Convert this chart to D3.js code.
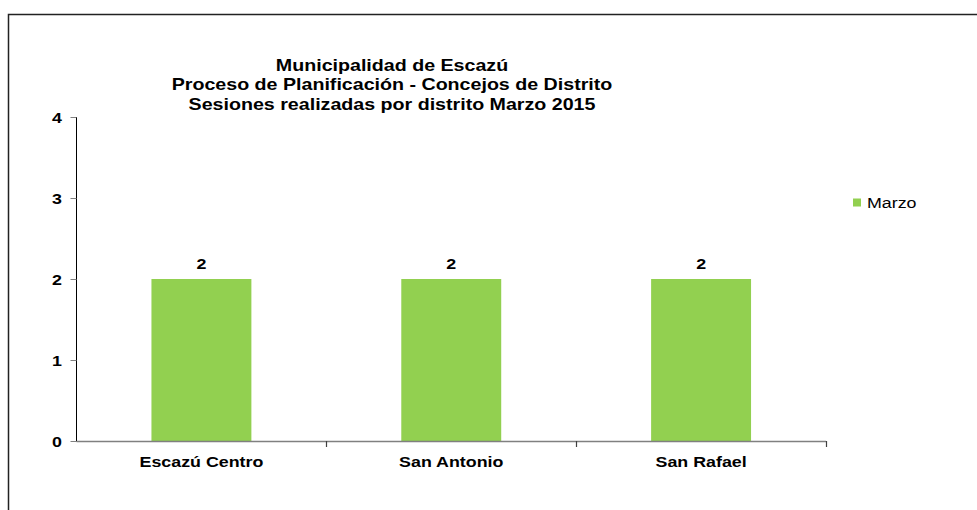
<!DOCTYPE html>
<html><head><meta charset="utf-8">
<script src="https://cdn.jsdelivr.net/npm/d3@7"></script>
<style>body{margin:0;background:#fff;}svg{display:block;font-family:"Liberation Sans",Arial,sans-serif;}</style>
</head><body><svg id="c" width="977" height="510"></svg>
<script>
const titleLines = ["Municipalidad de Escazú", "Proceso de Planificación - Concejos de Distrito", "Sesiones realizadas por distrito Marzo 2015"];
const categories = ["Escazú Centro", "San Antonio", "San Rafael"];
const seriesName = "Marzo";
const values = [2, 2, 2];
const yTicks = [0, 1, 2, 3, 4];

(function () {
const SX = 1.19;
const place = (fx, fy) => (d, i) => `translate(${fx(d, i)},${fy(d, i)}) scale(${SX},1)`;
const svg = d3.select("#c");
// outer border (left and top)
svg.append("path").attr("d", "M8.5,510 L8.5,14.5 L977,14.5").attr("fill", "none").attr("stroke", "#222").attr("stroke-width", 1.5);

const pLeft = 76.5, pRight = 826, pTop = 117, pBottom = 441;
const x = d3.scaleBand().domain(categories).range([pLeft, pRight]).paddingInner(0.6).paddingOuter(0.3);
const xb = d3.scaleBand().domain(categories).range([pLeft, pRight]);
const y = d3.scaleLinear().domain([0, 4]).range([pBottom, pTop]);

// title
svg.append("g").selectAll("text").data(titleLines).join("text")
  .attr("transform", place(() => 392, (d, i) => 71 + i * 19.3))
  .attr("text-anchor", "middle").attr("font-weight", "bold").attr("font-size", 16.5).attr("fill", "#000")
  .text(d => d);

// bars
svg.append("g").selectAll("rect").data(values).join("rect")
  .attr("x", (d, i) => x(categories[i])).attr("width", x.bandwidth())
  .attr("y", d => y(d)).attr("height", d => pBottom - y(d)).attr("fill", "#92d050");

// value labels
svg.append("g").selectAll("text").data(values).join("text")
  .attr("transform", place((d, i) => x(categories[i]) + x.bandwidth() / 2, d => y(d) - 10))
  .attr("text-anchor", "middle").attr("font-weight", "bold").attr("font-size", 15).text(d => d);

// y axis
const gy = svg.append("g");
gy.append("line").attr("x1", pLeft).attr("x2", pLeft).attr("y1", pTop).attr("y2", pBottom + 0.5).attr("stroke", "#000").attr("stroke-width", 1);
gy.selectAll("line.t").data(yTicks).join("line").attr("class", "t")
  .attr("x1", pLeft - 6).attr("x2", pLeft).attr("y1", d => Math.round(y(d)) + 0.5).attr("y2", d => Math.round(y(d)) + 0.5)
  .attr("stroke", "#808080");
gy.selectAll("text").data(yTicks).join("text")
  .attr("transform", place(() => 62, d => y(d) + 5.5)).attr("text-anchor", "end")
  .attr("font-weight", "bold").attr("font-size", 15).text(d => d);

// x axis
const gx = svg.append("g");
gx.append("line").attr("x1", pLeft).attr("x2", pRight).attr("y1", pBottom + 0.5).attr("y2", pBottom + 0.5).attr("stroke", "#808080").attr("stroke-width", 1.5);
const bounds = categories.map(c => xb(c) + xb.bandwidth());
gx.selectAll("line.t").data(bounds).join("line").attr("class", "t")
  .attr("x1", d => Math.round(d) + 0.5).attr("x2", d => Math.round(d) + 0.5).attr("y1", pBottom).attr("y2", pBottom + 6)
  .attr("stroke", "#404040").attr("stroke-width", 1.2);
gx.selectAll("text").data(categories).join("text")
  .attr("transform", place(d => xb(d) + xb.bandwidth() / 2, () => 467))
  .attr("text-anchor", "middle").attr("font-weight", "bold").attr("font-size", 15).text(d => d);

// legend
const lg = svg.append("g");
lg.append("rect").attr("x", 853).attr("y", 198.5).attr("width", 8).attr("height", 8).attr("fill", "#92d050");
lg.append("text").attr("transform", `translate(867,207.5) scale(${SX},1)`).attr("font-size", 15).attr("fill", "#000").text(seriesName);
})();
</script></body></html>
